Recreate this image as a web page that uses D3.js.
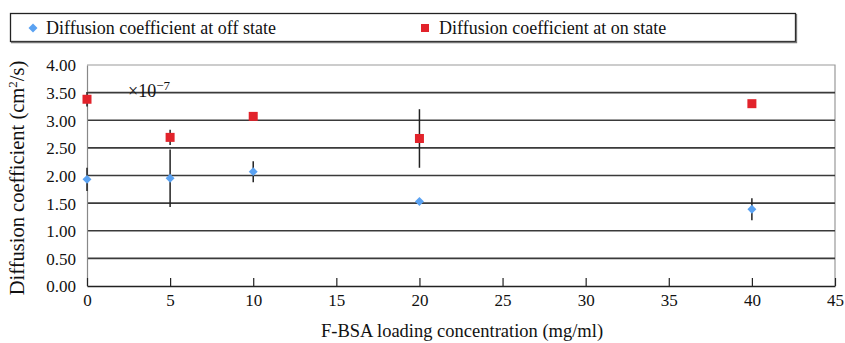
<!DOCTYPE html>
<html>
<head>
<meta charset="utf-8">
<script src="https://cdn.jsdelivr.net/npm/d3@7"></script>
<style>
  body { margin: 0; background: #fff; }
  #chart text { font-family: "Liberation Serif", "DejaVu Serif", serif; }
</style>
</head>
<body>
<svg id="chart" width="845" height="343"></svg>
<script>
// concentrations (mg/ml)
var concOff = [0, 5, 10, 20, 40];
var concOn = [0, 5, 10, 20, 40];
// diffusion coefficient x1e-7 cm^2/s
var offValues = [1.93, 1.95, 2.07, 1.53, 1.39];
var offErrors = [0.21, 0.52, 0.19, 0.02, 0.20];
var onValues = [3.38, 2.69, 3.07, 2.67, 3.30];
var onErrors = [0.13, 0.14, 0.03, 0.53, 0.02];
var xTicks = [0, 5, 10, 15, 20, 25, 30, 35, 40, 45];
var yTicks = [0, 0.5, 1, 1.5, 2, 2.5, 3, 3.5, 4];
var seriesNames = ["Diffusion coefficient at off state", "Diffusion coefficient at on state"];

var svg = d3.select("svg#chart");

//plot area
var margin = {top: 65, right: 10, bottom: 57, left: 87}
  , width = 835 - margin.left
  , height = 286 - margin.top;

var xScale = d3.scaleLinear().domain([0, 45]).range([0, width]);
var yScale = d3.scaleLinear().domain([0, 4]).range([height, 0]);

var g = svg.append("g")
    .attr("transform", "translate(" + margin.left + "," + margin.top + ")");

// frame (top + right)
g.append("path")
    .attr("d", "M0,0H" + width + "V" + height)
    .attr("fill", "none")
    .attr("stroke", "#999")
    .attr("stroke-width", 1.2);

// horizontal gridlines
g.selectAll("line.grid")
  .data(yTicks.filter(function(d) { return d > 0 && d < 4; }))
  .enter().append("line")
    .attr("class", "grid")
    .attr("x1", 0).attr("x2", width)
    .attr("y1", function(d) { return yScale(d); })
    .attr("y2", function(d) { return yScale(d); })
    .attr("stroke", "#3a3a3a")
    .attr("stroke-width", 1.6);

// y axis
var yAxis = g.append("g")
    .call(d3.axisLeft(yScale).tickValues(yTicks).tickSize(0).tickPadding(11)
      .tickFormat(d3.format(".2f")));
yAxis.attr("font-size", 17);
yAxis.select(".domain").attr("stroke", "#888").attr("stroke-width", 1.2);
yAxis.selectAll("text")
    .attr("fill", "#111")
    .attr("dy", "0.35em");

// x axis, ticks point inwards
var xAxis = g.append("g")
    .attr("transform", "translate(0," + height + ")")
    .call(d3.axisBottom(xScale).tickValues(xTicks).tickSizeInner(-8).tickSizeOuter(0).tickPadding(6));
xAxis.attr("font-size", 17);
xAxis.select(".domain").attr("stroke", "#222").attr("stroke-width", 1.4);
xAxis.selectAll("line").attr("stroke", "#222").attr("stroke-width", 1.2);
xAxis.selectAll("text")
    .attr("fill", "#111")
    .attr("y", 8);

// error bars
function drawErrors(xs, vals, errs) {
  g.append("g").selectAll("line")
    .data(vals)
    .enter().append("line")
      .attr("x1", function(d, i) { return xScale(xs[i]); })
      .attr("x2", function(d, i) { return xScale(xs[i]); })
      .attr("y1", function(d, i) { return yScale(d + errs[i]); })
      .attr("y2", function(d, i) { return yScale(d - errs[i]); })
      .attr("stroke", "#222")
      .attr("stroke-width", 1.5);
}
drawErrors(concOff, offValues, offErrors);
drawErrors(concOn, onValues, onErrors);

// square turned 45deg = diamond marker
var diamond = d3.symbol().type(d3.symbolSquare).size(40);

g.append("g").selectAll("path")
  .data(offValues)
  .enter().append("path")
    .attr("d", diamond)
    .attr("transform", function(d, i) { return "translate(" + xScale(concOff[i]) + "," + yScale(d) + ") rotate(45)"; })
    .attr("fill", "#5aa2f2");

g.append("g").selectAll("rect")
  .data(onValues)
  .enter().append("rect")
    .attr("x", function(d, i) { return xScale(concOn[i]) - 4.5; })
    .attr("y", function(d) { return yScale(d) - 4.5; })
    .attr("width", 9).attr("height", 9)
    .attr("fill", "#e2232b");

// x10^-7 multiplier
var mult = g.append("text")
    .attr("x", 41)
    .attr("y", 32)
    .attr("fill", "#111")
    .attr("font-size", 18);
mult.append("tspan").text("\u00d710");
mult.append("tspan").attr("dy", -7).attr("font-size", 13).text("\u22127");

// axis titles
svg.append("text")
    .attr("x", 462)
    .attr("y", 337)
    .attr("text-anchor", "middle")
    .attr("fill", "#111")
    .attr("font-size", 18.5)
    .text("F-BSA loading concentration (mg/ml)");

var yTitle = svg.append("text")
    .attr("transform", "translate(24," + 178 + ") rotate(-90)")
    .attr("text-anchor", "middle")
    .attr("fill", "#111")
    .attr("font-size", 20.5);
yTitle.append("tspan").text("Diffusion coefficient (cm");
yTitle.append("tspan").attr("dy", -7).attr("font-size", 13).text("2");
yTitle.append("tspan").attr("dy", 7).text("/s)");

// legend
var legend = svg.append("g");
legend.append("rect")
    .attr("x", 10.5).attr("y", 13.5)
    .attr("width", 785).attr("height", 28)
    .attr("fill", "#fff")
    .attr("stroke", "#222")
    .attr("stroke-width", 1.3);
legend.append("path")
    .attr("d", "M796.5,14V42.5H11")
    .attr("fill", "none")
    .attr("stroke", "#777")
    .attr("stroke-width", 1.3);

legend.append("path")
    .attr("d", diamond)
    .attr("transform", "translate(33,28) rotate(45)")
    .attr("fill", "#5aa2f2");
legend.append("text")
    .attr("x", 46).attr("y", 34)
    .attr("fill", "#111")
    .attr("font-size", 18)
    .text(seriesNames[0]);

legend.append("rect")
    .attr("x", 421).attr("y", 24)
    .attr("width", 8).attr("height", 8)
    .attr("fill", "#e2232b");
legend.append("text")
    .attr("x", 439).attr("y", 34)
    .attr("fill", "#111")
    .attr("font-size", 18)
    .text(seriesNames[1]);
</script>
</body>
</html>
